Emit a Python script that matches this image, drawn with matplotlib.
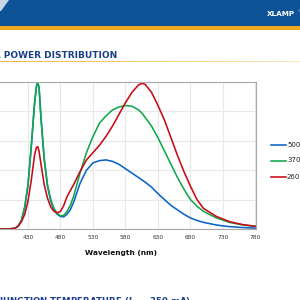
import matplotlib
matplotlib.use("Agg")
import matplotlib.pyplot as plt
import numpy as np
from matplotlib.patches import Rectangle, Polygon
from matplotlib.colors import LinearSegmentedColormap

# ---- data ----
wavelength = [380, 400, 410, 415, 420, 425, 430, 435, 440, 443, 445, 447, 450, 455, 460,
              465, 470, 475, 480, 485, 490, 495, 500, 510, 520, 530, 540, 550, 560, 570,
              580, 590, 600, 605, 610, 620, 630, 640, 650, 660, 670, 680, 690, 700, 720,
              740, 760, 780]
cct_5000 = [0, 0, 0.005, 0.02, 0.06, 0.15, 0.30, 0.56, 0.85, 0.97, 1.0, 0.96, 0.75, 0.47, 0.29,
            0.19, 0.13, 0.10, 0.085, 0.083, 0.10, 0.13, 0.18, 0.31, 0.40, 0.45, 0.465, 0.47, 0.46, 0.44,
            0.41, 0.38, 0.35, 0.335, 0.32, 0.285, 0.24, 0.20, 0.16, 0.13, 0.10, 0.075, 0.058, 0.045, 0.027,
            0.016, 0.010, 0.006]
cct_3700 = [0, 0, 0.005, 0.02, 0.06, 0.15, 0.30, 0.56, 0.85, 0.97, 1.0, 0.96, 0.76, 0.48, 0.30,
            0.20, 0.14, 0.105, 0.09, 0.092, 0.12, 0.16, 0.22, 0.38, 0.52, 0.63, 0.72, 0.77, 0.81, 0.83,
            0.84, 0.835, 0.81, 0.79, 0.76, 0.70, 0.62, 0.53, 0.44, 0.35, 0.27, 0.20, 0.155, 0.12, 0.075,
            0.045, 0.028, 0.018]
cct_2600 = [0, 0, 0.005, 0.02, 0.05, 0.10, 0.19, 0.33, 0.50, 0.555, 0.56, 0.53, 0.44, 0.30, 0.21,
            0.15, 0.12, 0.11, 0.12, 0.16, 0.22, 0.26, 0.30, 0.39, 0.47, 0.52, 0.57, 0.63, 0.70, 0.78,
            0.86, 0.93, 0.98, 0.99, 0.985, 0.93, 0.84, 0.74, 0.62, 0.50, 0.39, 0.29, 0.20, 0.14, 0.085,
            0.05, 0.03, 0.018]
series_labels = ["5000K", "3700K", "2600K"]
x_ticks = [380, 430, 480, 530, 580, 630, 680, 730, 780]
y_ticks = [0, 0.2, 0.4, 0.6, 0.8, 1.0]

colors = ["#0A64C8", "#10A84A", "#C80A14"]
navy = "#1B3E8A"

fig = plt.figure(figsize=(3, 3), dpi=100)
fig.patch.set_facecolor("white")

# header banner
fig.patches.append(Rectangle((0, 1 - 26.5 / 300), 1, 26.5 / 300, transform=fig.transFigure,
                             facecolor="#0D5297", edgecolor="none", zorder=0))
fig.patches.append(Rectangle((0, 1 - 29.5 / 300), 1, 3 / 300, transform=fig.transFigure,
                             facecolor="#EFA820", edgecolor="none", zorder=0))
# logo fragment
for dx in [0, 4]:
    fig.patches.append(Polygon([(dx / 300, 1), ((dx + 5) / 300, 1), ((dx - 3) / 300, 1 - 11 / 300),
                                ((dx - 8) / 300, 1 - 11 / 300)], closed=True, transform=fig.transFigure,
                               facecolor="#C9D6E6", edgecolor="none", zorder=1))
fig.text(267 / 300, 1 - 13.5 / 300, "XLAMP", color="white", fontsize=5.2, fontweight="bold",
         ha="left", va="center")
fig.text(297.5 / 300, 1 - 11 / 300, "®", color="white", fontsize=3, ha="left", va="center")

# section title
fig.text(117 / 300, 1 - 56 / 300, "RELATIVE SPECTRAL POWER DISTRIBUTION", color=navy,
         fontsize=6.45, fontweight="bold", ha="right", va="center")
gax = fig.add_axes([0, 1 - 62.5 / 300, 1, 1.5 / 300])
grad = np.linspace(0, 1, 256).reshape(1, -1)
cmap = LinearSegmentedColormap.from_list("g", ["#F0B440", "#F5CF7A", "#FBE8C0"])
gax.imshow(grad, aspect="auto", cmap=cmap)
gax.axis("off")

# bottom title
fig.text(-1 / 300, 1 - 301.5 / 300, r"JUNCTION TEMPERATURE (I$_\mathbf{F}$ = 350 mA)", color=navy,
         fontsize=6.2, fontweight="bold", ha="left", va="center")

# main axes
ax = fig.add_axes([-4.5 / 300, 71 / 300, 260 / 300, 147 / 300])
for vals, c, lab in zip([cct_5000, cct_3700, cct_2600], colors, series_labels):
    ax.plot(wavelength, vals, color=c, lw=1.15, label=lab, solid_capstyle="round")
ax.set_xlim(380, 780)
ax.set_ylim(0, 1.0)
ax.set_xticks(x_ticks)
ax.set_yticks(y_ticks)
ax.set_yticklabels([])
ax.tick_params(axis="x", labelsize=4.2, labelcolor="#333333", length=0, pad=4)
ax.tick_params(axis="y", length=0)
ax.grid(True, color="#E8E8E8", lw=0.8)
ax.set_axisbelow(True)
for s in ax.spines.values():
    s.set_color("#A8A8A8")
    s.set_linewidth(0.8)

fig.text(121 / 300, 1 - 253.5 / 300, "Wavelength (nm)", fontsize=5.3, fontweight="bold",
         color="#111111", ha="center", va="center")

# legend
leg_y = [145, 160.5, 177]
for c, lab, yy in zip(colors, series_labels, leg_y):
    fig.lines.append(plt.Line2D([270.5 / 300, 286 / 300], [1 - yy / 300, 1 - yy / 300],
                                transform=fig.transFigure, color=c, lw=1.15))
    fig.text(287 / 300, 1 - yy / 300, lab, fontsize=5, color="#222222", ha="left", va="center")

fig.savefig("out.png", dpi=100)
